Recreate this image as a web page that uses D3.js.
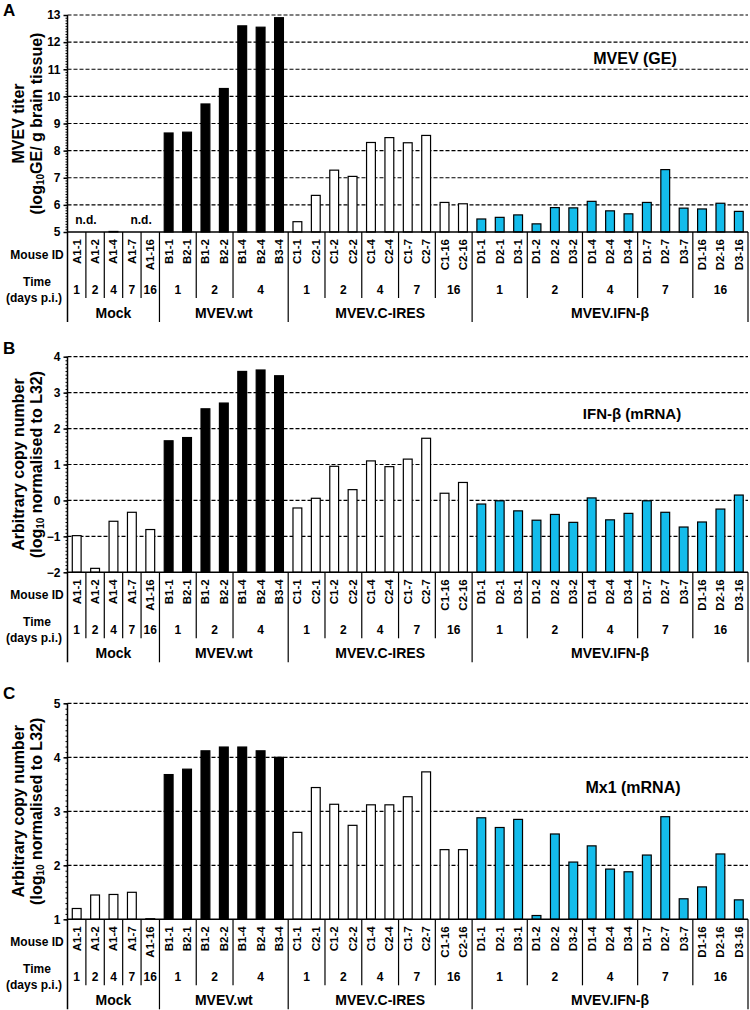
<!DOCTYPE html>
<html lang="en">
<head>
<meta charset="UTF-8">
<title>MVEV titer, IFN-b and Mx1</title>
<script src="https://cdn.jsdelivr.net/npm/d3@7"></script>
<style>
    body { margin: 0; background: #fff; }
    text { font-family: "Liberation Sans", Arial, sans-serif; font-weight: bold; fill: #000; }
</style>
</head>
<body>
<script>

    var mouseIds = ["A1-1", "A1-2", "A1-4", "A1-7", "A1-16",
        "B1-1", "B2-1", "B1-2", "B2-2", "B1-4", "B2-4", "B3-4",
        "C1-1", "C2-1", "C1-2", "C2-2", "C1-4", "C2-4", "C1-7", "C2-7", "C1-16", "C2-16",
        "D1-1", "D2-1", "D3-1", "D1-2", "D2-2", "D3-2", "D1-4", "D2-4", "D3-4",
        "D1-7", "D2-7", "D3-7", "D1-16", "D2-16", "D3-16"];
    var groupNames = {A: "Mock", B: "MVEV.wt", C: "MVEV.C-IRES", D: "MVEV.IFN-β"};

    // null = n.d.
    var titerGE = [null, null, 5.02, null, null,
        8.65, 8.68, 9.72, 10.29, 12.6, 12.55, 12.9,
        5.38, 6.35, 7.28, 7.05, 8.3, 8.48, 8.29, 8.56, 6.09, 6.04,
        5.48, 5.54, 5.63, 5.3, 5.9, 5.89, 6.13, 5.78, 5.67, 6.09, 7.3, 5.88, 5.85, 6.06, 5.76];
    var ifnbMRNA = [-0.98, -1.89, -0.58, -0.33, -0.81,
        1.66, 1.75, 2.55, 2.71, 3.59, 3.63, 3.47,
        -0.21, 0.06, 0.95, 0.3, 1.1, 0.94, 1.15, 1.73, 0.2, 0.5,
        -0.1, -0.01, -0.29, -0.55, -0.39, -0.61, 0.07, -0.54, -0.36, -0.01, -0.33, -0.74, -0.6, -0.24, 0.15];
    var mx1MRNA = [1.2, 1.45, 1.46, 1.5, 1.01,
        3.68, 3.78, 4.12, 4.19, 4.19, 4.12, 4.0,
        2.61, 3.44, 3.13, 2.74, 3.12, 3.12, 3.27, 3.73, 2.29, 2.29,
        2.88, 2.7, 2.85, 1.07, 2.58, 2.06, 2.36, 1.93, 1.88, 2.19, 2.9, 1.38, 1.6, 2.21, 1.36];
    var notDetected = [["A1-1", "A1-2"], ["A1-7", "A1-16"]];

    var width = 750, height = 1010;
    var xLeft = 67.5, xRight = 748;
    var barFill = {A: "#fff", B: "#000", C: "#fff", D: "#14bceb"};

    var panels = [
        {letter: "A", letterY: 16, values: titerGE, domain: [5, 13], top: 15, base: 232,
            title1: "MVEV titer", title2: ["(log", "10", "GE/ g brain tissue)"],
            label: "MVEV (GE)", labelX: 635, labelY: 58, labelSize: 16, nd: notDetected},
        {letter: "B", letterY: 354, values: ifnbMRNA, domain: [-2, 4], top: 356.7, base: 572.3,
            title1: "Arbitrary copy number", title2: ["(log", "10", " normalised to L32)"],
            label: "IFN-β (mRNA)", labelX: 632, labelY: 413, labelSize: 15, nd: []},
        {letter: "C", letterY: 699, values: mx1MRNA, domain: [1, 5], top: 703.3, base: 919.3,
            title1: "Arbitrary copy number", title2: ["(log", "10", " normalised to L32)"],
            label: "Mx1 (mRNA)", labelX: 633, labelY: 787, labelSize: 16, nd: []}
    ];

    var svg = d3.select("body").append("svg")
        .attr("width", width)
        .attr("height", height);

    var x = d3.scaleBand()
        .domain(mouseIds)
        .range([xLeft, xRight]);
    var barW = x.bandwidth() * 0.48;

    // runs of consecutive mice sharing a key
    function runs(keyFn) {
        var out = [];
        mouseIds.forEach(function (id) {
            var k = keyFn(id);
            var last = out[out.length - 1];
            if (last && last.key === k) last.ids.push(id);
            else out.push({key: k, ids: [id]});
        });
        return out;
    }
    var timeRuns = runs(function (id) { return id[0] + "|" + id.split("-")[1]; });
    var groupRuns = runs(function (id) { return id[0]; });
    function runCenter(r) {
        return (x(r.ids[0]) + x(r.ids[r.ids.length - 1]) + x.bandwidth()) / 2;
    }

    panels.forEach(function (p) {
        var g = svg.append("g");
        var y = d3.scaleLinear().domain(p.domain).range([p.base, p.top]);

        // dashed gridlines
        g.selectAll(".grid")
            .data(d3.range(p.domain[0] + 1, p.domain[1] + 1))
            .enter().append("line")
            .attr("x1", xLeft).attr("x2", xRight)
            .attr("y1", function (d) { return y(d); })
            .attr("y2", function (d) { return y(d); })
            .attr("stroke", "#000")
            .attr("stroke-width", 1.2)
            .attr("stroke-dasharray", "4,2");

        // bars
        var data = mouseIds.map(function (id, i) { return {id: id, v: p.values[i]}; })
            .filter(function (d) { return d.v !== null; });
        g.selectAll(".bar")
            .data(data)
            .enter().append("rect")
            .attr("x", function (d) { return x(d.id) + (x.bandwidth() - barW) / 2; })
            .attr("width", barW)
            .attr("y", function (d) { return y(d.v); })
            .attr("height", function (d) { return y(p.domain[0]) - y(d.v); })
            .attr("fill", function (d) { return barFill[d.id[0]]; })
            .attr("stroke", "#000")
            .attr("stroke-width", 1.2);

        // n.d. labels
        p.nd.forEach(function (pair) {
            g.append("text")
                .attr("x", (x(pair[0]) + x(pair[1]) + x.bandwidth()) / 2)
                .attr("y", y(p.domain[0]) - 8)
                .attr("text-anchor", "middle")
                .style("font-size", "12px")
                .text("n.d.");
        });

        // baseline / table top
        g.append("line")
            .attr("x1", xLeft).attr("x2", xRight)
            .attr("y1", p.base).attr("y2", p.base)
            .attr("stroke", "#000").attr("stroke-width", 1.5);

        // y axis
        var yAxis = d3.axisLeft(y)
            .tickValues(d3.range(p.domain[0], p.domain[1] + 1))
            .tickFormat(d3.format("d"))
            .tickSize(4)
            .tickSizeOuter(0)
            .tickPadding(3);
        var minorAxis = d3.axisLeft(y)
            .tickValues(d3.range(p.domain[0], p.domain[1] + 0.001, 0.1))
            .tickFormat("")
            .tickSize(2)
            .tickSizeOuter(0);
        var ag = g.append("g").attr("transform", "translate(" + xLeft + ",0)").call(yAxis);
        ag.select(".domain").remove();
        ag.selectAll("text").style("font-size", "12px").style("font-family", null);
        ag.selectAll("line").attr("stroke-width", 1.5);
        var mg = g.append("g").attr("transform", "translate(" + xLeft + ",0)").call(minorAxis);
        mg.select(".domain").remove();

        // left and right vertical rules
        g.append("line")
            .attr("x1", xLeft).attr("x2", xLeft)
            .attr("y1", p.top).attr("y2", p.base + 90)
            .attr("stroke", "#000").attr("stroke-width", 1.5);
        g.append("line")
            .attr("x1", xRight).attr("x2", xRight)
            .attr("y1", p.base).attr("y2", p.base + 90)
            .attr("stroke", "#000").attr("stroke-width", 1.2);

        // mouse id labels
        g.selectAll(".mid")
            .data(mouseIds)
            .enter().append("text")
            .attr("transform", function (d) {
                return "translate(" + (x(d) + x.bandwidth() / 2) + "," + (p.base + 7) + ") rotate(-90)";
            })
            .attr("text-anchor", "end")
            .attr("dominant-baseline", "central")
            .style("font-size", "11.5px")
            .text(function (d) { return d; });

        // time separators and labels
        timeRuns.slice(1).forEach(function (r) {
            var bx = x(r.ids[0]);
            var isGroup = groupRuns.some(function (gr) { return gr.ids[0] === r.ids[0]; });
            g.append("line")
                .attr("x1", bx).attr("x2", bx)
                .attr("y1", p.base).attr("y2", p.base + (isGroup ? 90 : 66))
                .attr("stroke", "#000").attr("stroke-width", 1.2);
        });
        g.selectAll(".time")
            .data(timeRuns)
            .enter().append("text")
            .attr("x", runCenter)
            .attr("y", p.base + 58)
            .attr("text-anchor", "middle")
            .attr("dominant-baseline", "central")
            .style("font-size", "12px")
            .text(function (r) { return r.key.split("|")[1]; });

        g.selectAll(".grp")
            .data(groupRuns)
            .enter().append("text")
            .attr("x", runCenter)
            .attr("y", p.base + 81)
            .attr("text-anchor", "middle")
            .attr("dominant-baseline", "central")
            .style("font-size", "14px")
            .text(function (r) { return groupNames[r.key]; });

        // row headers
        g.append("text").attr("x", 37).attr("y", p.base + 23)
            .attr("text-anchor", "middle").attr("dominant-baseline", "central")
            .style("font-size", "12px").text("Mouse ID");
        g.append("text").attr("x", 37).attr("y", p.base + 50)
            .attr("text-anchor", "middle").attr("dominant-baseline", "central")
            .style("font-size", "12px").text("Time");
        g.append("text").attr("x", 34).attr("y", p.base + 66)
            .attr("text-anchor", "middle").attr("dominant-baseline", "central")
            .style("font-size", "12px").text("(days p.i.)");

        // axis title
        var cy = (p.top + p.base) / 2;
        g.append("text")
            .attr("transform", "translate(18," + cy + ") rotate(-90)")
            .attr("text-anchor", "middle").attr("dominant-baseline", "central")
            .style("font-size", "16px").text(p.title1);
        var t2 = g.append("text")
            .attr("transform", "translate(36," + cy + ") rotate(-90)")
            .attr("text-anchor", "middle").attr("dominant-baseline", "central")
            .style("font-size", "16px");
        t2.append("tspan").text(p.title2[0]);
        t2.append("tspan").attr("dy", 4).style("font-size", "10px").text(p.title2[1]);
        t2.append("tspan").attr("dy", -4).text(p.title2[2]);

        // series label and panel letter
        g.append("text")
            .attr("x", p.labelX).attr("y", p.labelY)
            .attr("text-anchor", "middle").attr("dominant-baseline", "central")
            .style("font-size", p.labelSize + "px").text(p.label);
        g.append("text")
            .attr("x", 3).attr("y", p.letterY)
            .style("font-size", "17px").text(p.letter);
    });

</script>
</body>
</html>
